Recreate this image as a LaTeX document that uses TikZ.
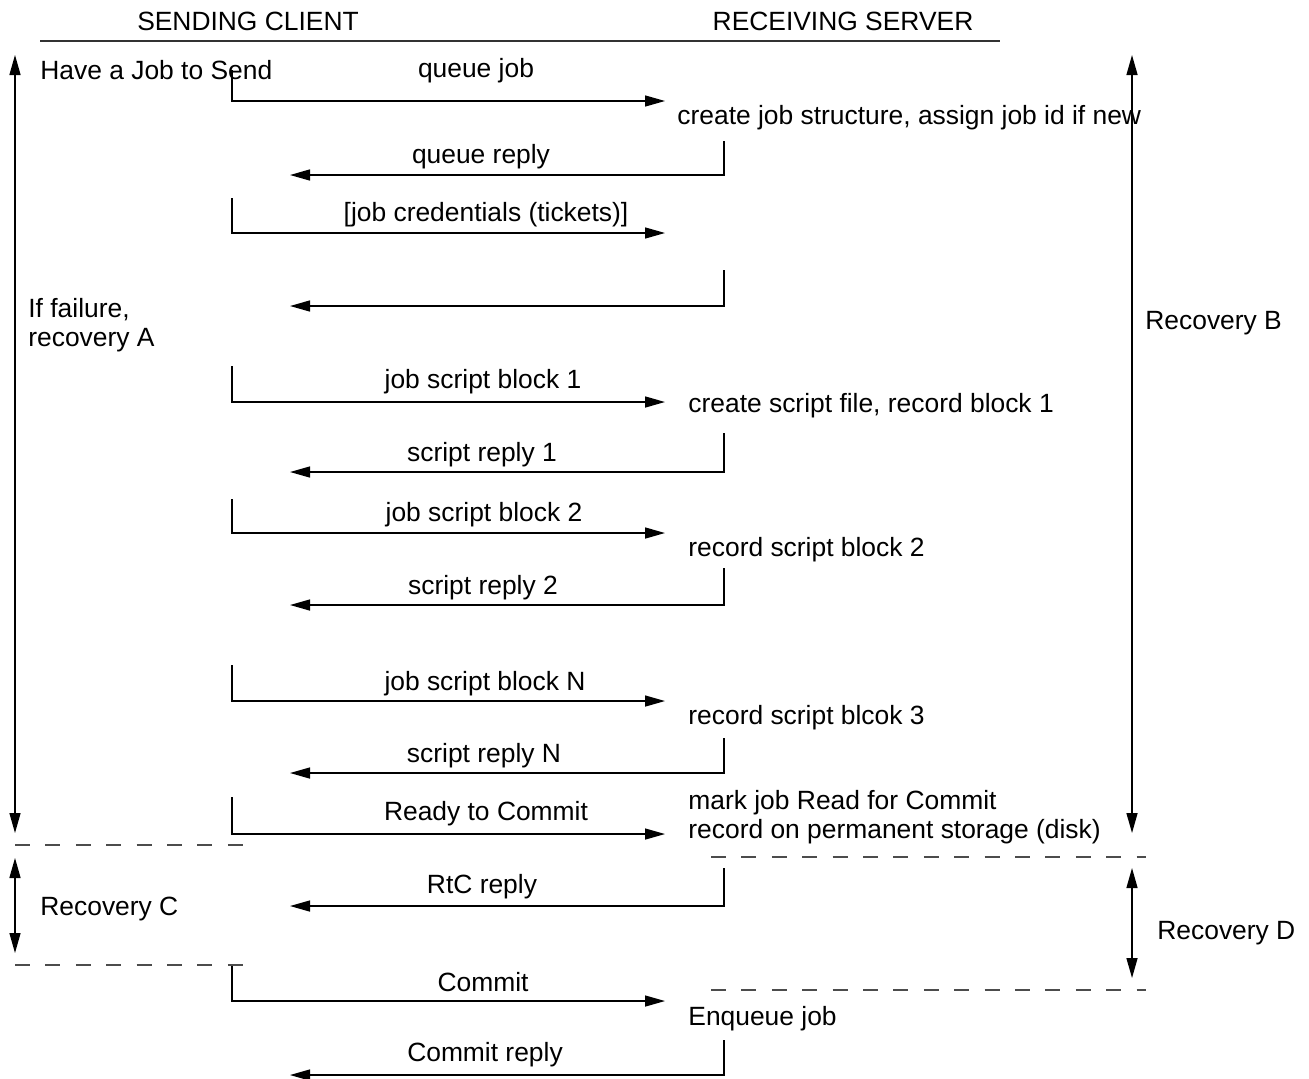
\documentclass[tikz,border=0pt]{standalone}
\usepackage{fontspec}
\setmainfont{Liberation Sans}
\usetikzlibrary{arrows.meta,positioning}
\tikzset{
  msgarrow/.style={-{Triangle[length=10pt,width=5.5pt]},line width=0.7pt},
  spanarrow/.style={{Triangle[length=10pt,width=5.5pt]}-{Triangle[length=10pt,width=5.5pt]},line width=0.7pt},
  phaseline/.style={dash pattern=on 7.5pt off 7.7pt,line width=0.7pt,black!70},
  headrule/.style={line width=0.6pt,black!80},
  msglabel/.style={inner sep=0pt},
  actlabel/.style={inner sep=0pt,anchor=west,align=left},
}

\begin{document}
\begin{tikzpicture}[x=0.5pt,y=-0.5pt,font=\fontsize{13.2}{14.6}\selectfont]
  \useasboundingbox (0,0) rectangle (1309,1078);

  %% ── Headers ───────────────────────────────────────────────────────────────
  \node[msglabel] (client) at (248,21)  {SENDING CLIENT};
  \node[msglabel] (server) at (843,21)  {RECEIVING SERVER};
  \coordinate (ruleL) at (40,41);
  \coordinate (ruleR) at (1000,41);
  \draw[headrule] (ruleL) -- (ruleR);

  %% ── Client and server states ──────────────────────────────────────────────
  \node[actlabel] (havejob)  at (40,70)   {Have a Job to Send};
  \node[actlabel] (createjob) at (677,118) {create job structure, assign job id if new};
  \node[actlabel] (createscr) at (688,406) {create script file, record block 1};
  \node[actlabel] (recblk2)   at (688,550) {record script block 2};
  \node[actlabel] (recblk3)   at (688,718) {record script blcok 3};
  \node[actlabel] (markjob)   at (688,817) {mark job Read for Commit\\record on permanent storage (disk)};
  \node[actlabel] (enqueue)   at (688,1019) {Enqueue job};

  %% ── Messages: client -> server ────────────────────────────────────────────
  \coordinate (q1s) at (232,70);   \coordinate (q1e) at (665,101);
  \coordinate (q2s) at (232,198);  \coordinate (q2e) at (665,233);
  \coordinate (q3s) at (232,366);  \coordinate (q3e) at (665,402);
  \coordinate (q4s) at (232,499);  \coordinate (q4e) at (665,533);
  \coordinate (q5s) at (232,665);  \coordinate (q5e) at (665,701);
  \coordinate (q6s) at (232,797);  \coordinate (q6e) at (665,834);
  \coordinate (q7s) at (232,966);  \coordinate (q7e) at (665,1001);
  \draw[msgarrow] (q1s) |- (q1e);
  \draw[msgarrow] (q2s) |- (q2e);
  \draw[msgarrow] (q3s) |- (q3e);
  \draw[msgarrow] (q4s) |- (q4e);
  \draw[msgarrow] (q5s) |- (q5e);
  \draw[msgarrow] (q6s) |- (q6e);
  \draw[msgarrow] (q7s) |- (q7e);
  \node[msglabel] (lq1) at (476,71)  {queue job};
  \node[msglabel] (lq2) at (486,215) {[job credentials (tickets)]};
  \node[msglabel] (lq3) at (483,382) {job script block 1};
  \node[msglabel] (lq4) at (484,515) {job script block 2};
  \node[msglabel] (lq5) at (485,684) {job script block N};
  \node[msglabel] (lq6) at (486,814) {Ready to Commit};
  \node[msglabel] (lq7) at (483,982) {Commit};

  %% ── Messages: server -> client ────────────────────────────────────────────
  \coordinate (r1s) at (724,141);  \coordinate (r1e) at (290,175);
  \coordinate (r2s) at (724,270);  \coordinate (r2e) at (290,306);
  \coordinate (r3s) at (724,433);  \coordinate (r3e) at (290,472);
  \coordinate (r4s) at (724,568);  \coordinate (r4e) at (290,605);
  \coordinate (r5s) at (724,738);  \coordinate (r5e) at (290,773);
  \coordinate (r6s) at (724,868);  \coordinate (r6e) at (290,906);
  \coordinate (r7s) at (724,1040); \coordinate (r7e) at (290,1075);
  \draw[msgarrow] (r1s) |- (r1e);
  \draw[msgarrow] (r2s) |- (r2e);
  \draw[msgarrow] (r3s) |- (r3e);
  \draw[msgarrow] (r4s) |- (r4e);
  \draw[msgarrow] (r5s) |- (r5e);
  \draw[msgarrow] (r6s) |- (r6e);
  \draw[msgarrow] (r7s) |- (r7e);
  \node[msglabel] (lr1) at (481,157)  {queue reply};
  \node[msglabel] (lr3) at (482,455)  {script reply 1};
  \node[msglabel] (lr4) at (483,588)  {script reply 2};
  \node[msglabel] (lr5) at (484,756)  {script reply N};
  \node[msglabel] (lr6) at (482,887)  {RtC reply};
  \node[msglabel] (lr7) at (485,1055) {Commit reply};

  %% ── Recovery spans ────────────────────────────────────────────────────────
  \coordinate (recAtop) at (15,55);    \coordinate (recAbot) at (15,833);
  \coordinate (recBtop) at (1132,55);  \coordinate (recBbot) at (1132,833);
  \coordinate (recCtop) at (15,858);   \coordinate (recCbot) at (15,953);
  \coordinate (recDtop) at (1132,868); \coordinate (recDbot) at (1132,978);
  \draw[spanarrow] (recAtop) -- (recAbot);
  \draw[spanarrow] (recBtop) -- (recBbot);
  \draw[spanarrow] (recCtop) -- (recCbot);
  \draw[spanarrow] (recDtop) -- (recDbot);
  \node[actlabel] (recA) at (28,325)   {If failure,\\recovery A};
  \node[actlabel] (recB) at (1145,323) {Recovery B};
  \node[actlabel] (recC) at (40,909)   {Recovery C};
  \node[actlabel] (recD) at (1157,933) {Recovery D};

  %% ── Phase boundaries ──────────────────────────────────────────────────────
  \coordinate (cb1L) at (15,845);  \coordinate (cb1R) at (246,845);
  \coordinate (cb2L) at (15,965);  \coordinate (cb2R) at (246,965);
  \coordinate (sb1L) at (711,857); \coordinate (sb1R) at (1146,857);
  \coordinate (sb2L) at (711,990); \coordinate (sb2R) at (1146,990);
  \draw[phaseline] (cb1L) -- (cb1R);
  \draw[phaseline] (cb2L) -- (cb2R);
  \draw[phaseline] (sb1L) -- (sb1R);
  \draw[phaseline] (sb2L) -- (sb2R);

\end{tikzpicture}
\end{document}
